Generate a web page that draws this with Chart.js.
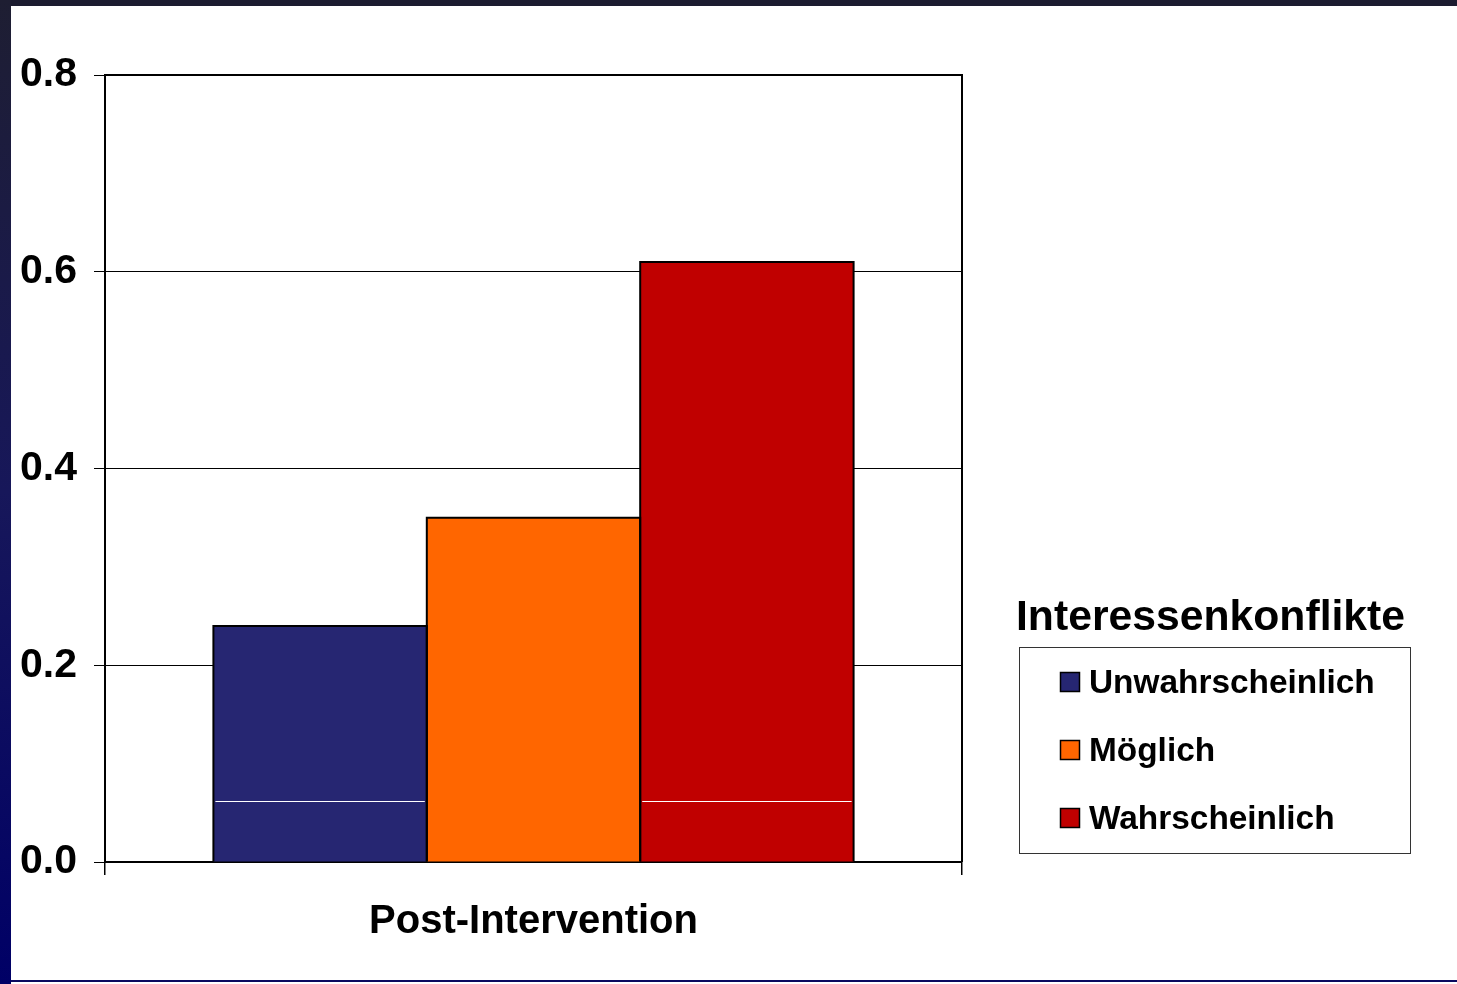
<!DOCTYPE html>
<html>
<head>
<meta charset="utf-8">
<title>Interessenkonflikte – Post-Intervention</title>
<script src="https://cdn.jsdelivr.net/npm/chart.js@4/dist/chart.umd.min.js"></script>
<style>
  html, body { margin: 0; padding: 0; background: #ffffff; overflow: hidden; }
  #frameTop { position: absolute; left: 0; top: 0; width: 1457px; height: 6px; background: #1c1c30; }
  #frameLeft { position: absolute; left: 0; top: 0; width: 11px; height: 984px;
               background: linear-gradient(#1e1e32, #17175a 50%, #000066); }
  #frameBottom { position: absolute; left: 11px; top: 980px; width: 1446px; height: 2px; background: #0a0a60; }
  #chart { position: absolute; left: 0; top: 0; }
</style>
</head>
<body>
<div id="frameTop"></div>
<div id="frameLeft"></div>
<div id="frameBottom"></div>
<canvas id="chart" width="1457" height="984"></canvas>
<script>
// Chart data
const categories = ['Post-Intervention'];
const seriesNames = ['Unwahrscheinlich', 'Möglich', 'Wahrscheinlich'];
const unwahrscheinlich = [0.24];
const moeglich = [0.35];
const wahrscheinlich = [0.61];
const seriesColors = ['#262672', '#ff6600', '#c00000'];
const yTickValues = [0.0, 0.2, 0.4, 0.6, 0.8];
const legendTitle = 'Interessenkonflikte';
// thin white rule crossing the outer two bars
const ruleLevel = [0.062];
const ruleSeries = [0, 2];

const FONT = '"Liberation Sans", Arial, Helvetica, sans-serif';
const seriesValues = [unwahrscheinlich, moeglich, wahrscheinlich];

// Black frame around the plotting area
const plotFrame = {
  id: 'plotFrame',
  afterDraw(chart) {
    const { ctx, chartArea: a } = chart;
    ctx.save();
    ctx.strokeStyle = '#000';
    ctx.lineWidth = 2;
    ctx.beginPath();
    ctx.moveTo(a.left, a.top);
    ctx.lineTo(a.right, a.top);
    ctx.lineTo(a.right, a.bottom);
    ctx.stroke();
    ctx.restore();
  }
};

// Crisp black outline on each bar plus the white rule across selected bars
const barOutline = {
  id: 'barOutline',
  afterDatasetsDraw(chart) {
    const { ctx } = chart;
    const yRule = Math.round(chart.scales.y.getPixelForValue(ruleLevel[0])) + 0.5;
    ctx.save();
    chart.data.datasets.forEach((ds, i) => {
      chart.getDatasetMeta(i).data.forEach(bar => {
        const half = bar.width / 2;
        const l = bar.x - half, r = bar.x + half;
        if (ruleSeries.includes(i)) {
          ctx.strokeStyle = '#ffffff';
          ctx.lineWidth = 1;
          ctx.beginPath();
          ctx.moveTo(l + 2, yRule);
          ctx.lineTo(r - 2, yRule);
          ctx.stroke();
        }
        ctx.strokeStyle = '#000';
        ctx.lineWidth = 2;
        ctx.beginPath();
        ctx.moveTo(l, bar.base);
        ctx.lineTo(l, bar.y);
        ctx.lineTo(r, bar.y);
        ctx.lineTo(r, bar.base);
        ctx.stroke();
      });
    });
    ctx.restore();
  }
};

// Boxed legend with its title set above the box
const legendPanel = {
  id: 'legendPanel',
  afterDraw(chart) {
    const { ctx } = chart;
    const box = { x: 1019.5, y: 647.5, w: 391, h: 206 };
    ctx.save();
    ctx.fillStyle = '#000';
    ctx.textAlign = 'left';
    ctx.textBaseline = 'alphabetic';
    ctx.font = 'bold 42.7px ' + FONT;
    ctx.fillText(legendTitle, 1016, 630);

    ctx.strokeStyle = '#333';
    ctx.lineWidth = 1;
    ctx.strokeRect(box.x, box.y, box.w, box.h);

    ctx.font = 'bold 33.4px ' + FONT;
    chart.data.datasets.forEach((ds, i) => {
      const cy = 682 + i * 68;
      ctx.fillStyle = ds.backgroundColor;
      ctx.fillRect(1060, cy - 10, 20, 20);
      ctx.strokeStyle = '#000';
      ctx.lineWidth = 1.5;
      ctx.strokeRect(1060.5, cy - 9.5, 19, 19);
      ctx.fillStyle = '#000';
      ctx.fillText(ds.label, 1089, cy + 11);
    });
    ctx.restore();
  }
};

new Chart(document.getElementById('chart'), {
  type: 'bar',
  data: {
    labels: categories,
    datasets: seriesNames.map((name, i) => ({
      label: name,
      data: seriesValues[i],
      backgroundColor: seriesColors[i],
      borderWidth: 0,
      categoryPercentage: 0.747,
      barPercentage: 1.0
    }))
  },
  options: {
    responsive: false,
    animation: false,
    events: [],
    layout: { padding: { left: 0, top: 75, right: 495, bottom: 0 } },
    plugins: {
      legend: { display: false },
      tooltip: { enabled: false },
      title: { display: false }
    },
    scales: {
      x: {
        type: 'category',
        offset: true,
        grid: {
          display: true,
          offset: true,
          drawOnChartArea: false,
          drawTicks: true,
          tickLength: 13,
          color: '#000',
          lineWidth: 1.5
        },
        border: { display: true, color: '#000', width: 2 },
        ticks: {
          color: '#000',
          padding: 23,
          maxRotation: 0,
          font: { family: FONT, size: 40, weight: 'bold' }
        },
        afterFit(scale) { scale.height = 122; }
      },
      y: {
        min: yTickValues[0],
        max: yTickValues[yTickValues.length - 1],
        afterBuildTicks(scale) { scale.ticks = yTickValues.map(v => ({ value: v })); },
        grid: { color: '#000', lineWidth: 1, tickLength: 11 },
        border: { display: true, color: '#000', width: 2 },
        ticks: {
          color: '#000',
          padding: 17,
          callback: v => Number(v).toFixed(1),
          font: { family: FONT, size: 41, weight: 'bold' }
        },
        afterFit(scale) { scale.width = 105; }
      }
    }
  },
  plugins: [plotFrame, barOutline, legendPanel]
});
</script>
</body>
</html>
